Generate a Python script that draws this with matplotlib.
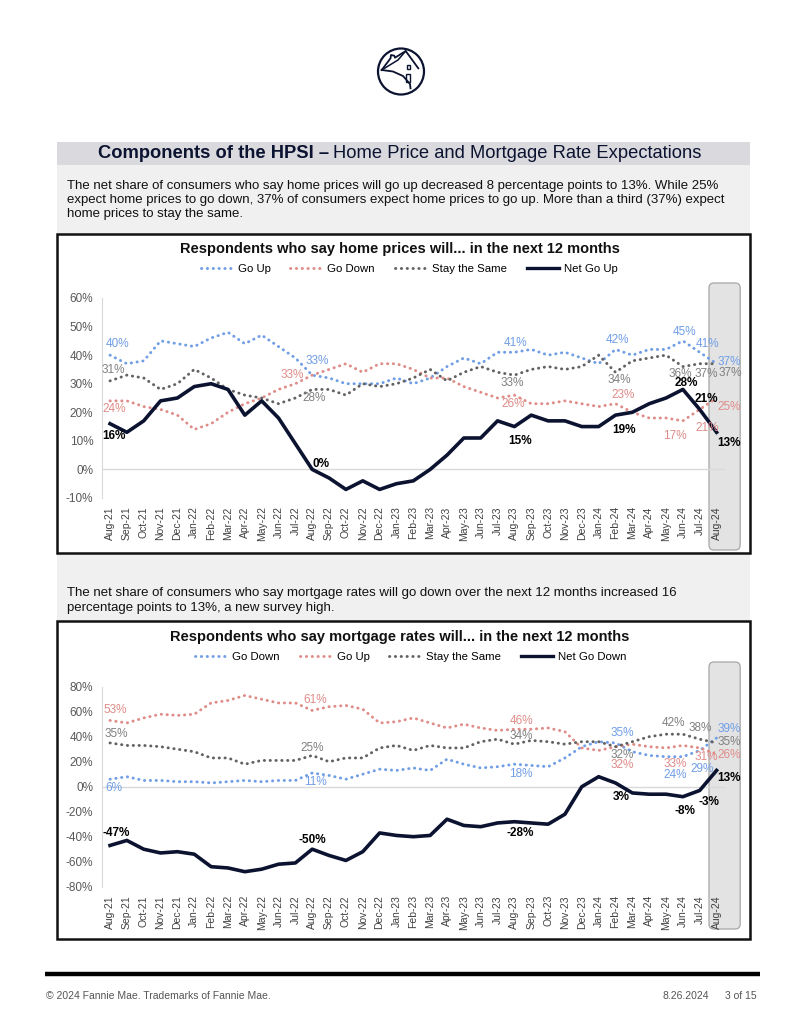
import matplotlib

matplotlib.use("Agg")
import matplotlib.pyplot as plt
import pandas as pd
from matplotlib.lines import Line2D
from matplotlib.patches import Circle, FancyBboxPatch, Rectangle

plt.rcParams["font.family"] = ["Liberation Sans", "DejaVu Sans"]

BLUE = "#709ee6"
PINK = "#df8c88"
GRAY = "#626262"
GRAY_TXT = "#808080"
NAVY = "#0b1330"
TICK = "#595959"

months = list(pd.date_range("2021-08-01", "2024-08-01", freq="MS").strftime("%b-%y"))

# home prices (%)
hp_up = [40, 37, 38, 45, 44, 43, 46, 48, 44, 47, 43, 39, 33, 32, 30, 30, 30, 32,
         30, 32, 36, 39, 37, 41, 41, 42, 40, 41, 39, 37, 42, 40, 42, 42, 45, 41, 37]
hp_down = [24, 24, 22, 21, 19, 14, 16, 20, 23, 25, 28, 30, 33, 35, 37, 34, 37, 37,
           35, 32, 32, 29, 27, 25, 26, 23, 23, 24, 23, 22, 23, 20, 18, 18, 17, 21, 25]
hp_same = [31, 33, 32, 28, 30, 35, 32, 28, 26, 25, 23, 25, 28, 28, 26, 30, 29, 30,
           32, 35, 31, 34, 36, 34, 33, 35, 36, 35, 36, 40, 34, 38, 39, 40, 36, 37, 37]
hp_net = [16, 13, 17, 24, 25, 29, 30, 28, 19, 24, 18, 9, 0, -3, -7, -4, -7, -5,
          -4, 0, 5, 11, 11, 17, 15, 19, 17, 17, 15, 15, 19, 20, 23, 25, 28, 21, 13]

# mortgage rates (%)
mr_down = [6, 8, 5, 5, 4, 4, 3, 4, 5, 4, 5, 5, 11, 9, 6, 10, 14, 13,
           15, 13, 22, 18, 15, 16, 18, 17, 16, 23, 32, 36, 35, 28, 25, 24, 24, 29, 39]
mr_up = [53, 51, 55, 58, 57, 58, 67, 69, 73, 70, 67, 67, 61, 64, 65, 62, 51, 52,
         55, 51, 47, 50, 47, 45, 46, 46, 47, 44, 31, 29, 32, 34, 32, 31, 33, 31, 26]
mr_same = [35, 33, 33, 32, 30, 28, 23, 23, 18, 21, 21, 21, 25, 20, 23, 23, 31, 33,
           29, 33, 31, 31, 36, 38, 34, 37, 36, 34, 36, 36, 32, 36, 40, 42, 42, 38, 35]
mr_net = [-47, -43, -50, -53, -52, -54, -64, -65, -68, -66, -62, -61, -50, -55, -59, -52, -37, -39,
          -40, -39, -26, -31, -32, -29, -28, -29, -30, -22, 0, 8, 3, -5, -6, -6, -8, -3, 13]

DOT = dict(lw=2.1, ls=(0, (0.1, 1.9)), dash_capstyle="round")

W, H = 800, 1035
fig = plt.figure(figsize=(W / 100, H / 100), dpi=100)
bg = fig.add_axes([0, 0, 1, 1], zorder=0)
bg.set_xlim(0, W)
bg.set_ylim(H, 0)
bg.axis("off")

# logo
bg.add_patch(Circle((401, 71.5), 23, fill=False, ec=NAVY, lw=1.6))
bg.plot([381.7, 390.5, 391, 394.3, 395, 405.7, 418.3], [70, 58.3, 55, 55.7, 57.7, 51, 68.3],
        color=NAVY, lw=1.3)
bg.plot([381.7, 393, 403, 410, 410.5], [70, 71.5, 76, 84, 88.3], color=NAVY, lw=1.3)
bg.plot([405.7, 398, 381.7], [51, 60, 70], color=NAVY, lw=1.1)
bg.add_patch(Rectangle((406.5, 64.5), 3.2, 4.2, fill=False, ec=NAVY, lw=1.0))
bg.add_patch(Rectangle((406, 73.5), 4, 8, fill=False, ec=NAVY, lw=1.0))

# page blocks
bg.add_patch(Rectangle((57, 165), 693, 456, fc="#f0f0f0", ec="none"))
bg.add_patch(Rectangle((57, 141.5), 693, 23, fc="#d9d9de", ec="none"))
bg.text(329, 153.5, "Components of the HPSI \u2013", ha="right", va="center", fontsize=13.2,
        fontweight="bold", color=NAVY)
bg.text(333, 153.5, "Home Price and Mortgage Rate Expectations", ha="left", va="center",
        fontsize=13.2, color=NAVY)
bg.text(67, 200,
        "The net share of consumers who say home prices will go up decreased 8 percentage points to 13%. While 25%\n"
        "expect home prices to go down, 37% of consumers expect home prices to go up. More than a third (37%) expect\n"
        "home prices to stay the same.",
        ha="left", va="center", fontsize=9.5, color="#111111", linespacing=1.25)
bg.text(67, 600.5,
        "The net share of consumers who say mortgage rates will go down over the next 12 months increased 16\n"
        "percentage points to 13%, a new survey high.",
        ha="left", va="center", fontsize=9.5, color="#111111", linespacing=1.25)
for top, bot in [(234, 553), (621, 939)]:
    bg.add_patch(Rectangle((57, top), 693, bot - top, fc="white", ec="#111111", lw=1.8))

# footer
bg.plot([45, 760], [974, 974], color="black", lw=3.2, solid_capstyle="butt")
bg.text(46, 996, "\u00a9 2024 Fannie Mae. Trademarks of Fannie Mae.", ha="left", va="center",
        fontsize=7.5, color="#555555")
bg.text(709, 996, "8.26.2024", ha="right", va="center", fontsize=7.5, color="#555555")
bg.text(757, 996, "3 of 15", ha="right", va="center", fontsize=7.5, color="#555555")


def chart(top_px, bot_px, ylo, yhi, step, series, names, title, title_y, legend_x,
          box_top, box_bot, labels):
    ax = fig.add_axes([101.6 / W, 1 - bot_px / H, (725 - 101.6) / W, (bot_px - top_px) / H], zorder=2)
    ax.set_facecolor("none")
    x = range(len(months))
    colors = [BLUE, PINK, GRAY, NAVY]
    for i, (vals, c) in enumerate(zip(series, colors)):
        if i < 3:
            ax.plot(x, vals, color=c, **DOT, zorder=3)
        else:
            ax.plot(x, vals, color=c, lw=2.6, zorder=4, solid_joinstyle="round")
    ax.axhline(0, color="#d9d9d9", lw=1.0, zorder=1)
    ax.set_xlim(-0.5, len(months) - 0.5)
    ax.set_ylim(ylo, yhi)
    ax.set_yticks(range(ylo, yhi + 1, step))
    ax.set_yticklabels([f"{v}%" for v in range(ylo, yhi + 1, step)])
    ax.set_xticks(list(x))
    ax.set_xticklabels(months, rotation=90)
    ax.tick_params(axis="x", length=0, labelsize=7.5, colors="#404040", pad=6)
    ax.tick_params(axis="y", length=0, labelsize=8.5, colors=TICK, pad=6)
    for s in ["top", "right", "bottom"]:
        ax.spines[s].set_visible(False)
    ax.spines["left"].set_color("#d9d9d9")

    # highlight box for latest month
    inv = bg.transData.inverted()
    x0 = inv.transform(ax.transData.transform((len(months) - 1.45, 0)))[0]
    x1 = inv.transform(ax.transData.transform((len(months) + 0.4, 0)))[0]
    bg.add_patch(FancyBboxPatch((x0, box_top), x1 - x0, box_bot - box_top,
                                boxstyle="round,pad=0,rounding_size=5",
                                fc="#e3e3e3", ec="#a6a6a6", lw=0.9, zorder=1))

    lcol = [BLUE, PINK, GRAY_TXT, "black"]
    for si, idx, dx, dy in labels:
        v = series[si][idx]
        ax.annotate(f"{v}%", (idx, v), xytext=(dx, dy), textcoords="offset pixels",
                    ha="center", va="center", fontsize=8.5, color=lcol[si],
                    fontweight="bold" if si == 3 else "normal", zorder=6)

    bg.text(400, title_y, title, ha="center", va="center", fontsize=10.5, fontweight="bold",
            color="#111111")
    handles = [Line2D([], [], color=c, **DOT) for c in colors[:3]]
    handles.append(Line2D([], [], color=NAVY, lw=2.4))
    ax.legend(handles, names, ncol=4, loc="center", bbox_to_anchor=(legend_x / W, 1 - (title_y + 20) / H),
              bbox_transform=fig.transFigure, frameon=False, fontsize=8.2, handlelength=2.8,
              handletextpad=0.45, columnspacing=1.75)
    return ax


hp_labels = [
    (0, 0, 7, 11), (0, 12, 5, 14), (0, 24, 1, 9), (0, 30, 2, 9), (0, 34, 2, 9), (0, 35, 8, 8), (0, 36, 13, 2),
    (1, 0, 4, -8), (1, 12, -20, 0), (1, 24, -1, -9), (1, 30, 8, 9), (1, 34, -8, -15), (1, 35, 7, -19), (1, 36, 13, -9),
    (2, 0, 3, 11), (2, 12, 2, -9), (2, 24, -2, -8), (2, 30, 4, -8), (2, 34, -3, -7), (2, 35, 7, -10), (2, 36, 14, -9),
    (3, 0, 4, -12), (3, 12, 9, 5), (3, 24, 6, -14), (3, 30, 9, -15), (3, 34, 3, 6), (3, 35, 7, 10), (3, 36, 12, -11),
]
mr_labels = [
    (0, 0, 4, -9), (0, 12, 3, -9), (0, 24, 6, -10), (0, 30, 7, 10), (0, 34, -8, -18), (0, 35, 2, -19), (0, 36, 13, 9),
    (1, 0, 5, 10), (1, 12, 3, 10), (1, 24, 7, 8), (1, 30, 7, -18), (1, 34, -8, -19), (1, 35, 7, -9), (1, 36, 13, -1),
    (2, 0, 6, 9), (2, 12, 0, 7), (2, 24, 7, 8), (2, 30, 7, -8), (2, 34, -9, 11), (2, 35, 0, 11), (2, 36, 13, 1),
    (3, 0, 6, 12), (3, 12, 0, 9), (3, 24, 6, -11), (3, 30, 6, -14), (3, 34, 2, -14), (3, 35, 9, -12), (3, 36, 12, -8),
]

chart(298, 498, -10, 60, 10, [hp_up, hp_down, hp_same, hp_net],
      ["Go Up", "Go Down", "Stay the Same", "Net Go Up"],
      "Respondents who say home prices will... in the next 12 months", 249, 409, 283, 550, hp_labels)
chart(686.7, 886.7, -80, 80, 20, [mr_down, mr_up, mr_same, mr_net],
      ["Go Down", "Go Up", "Stay the Same", "Net Go Down"],
      "Respondents who say mortgage rates will... in the next 12 months", 637, 411, 662, 929, mr_labels)

fig.savefig("out.png", dpi=100)
